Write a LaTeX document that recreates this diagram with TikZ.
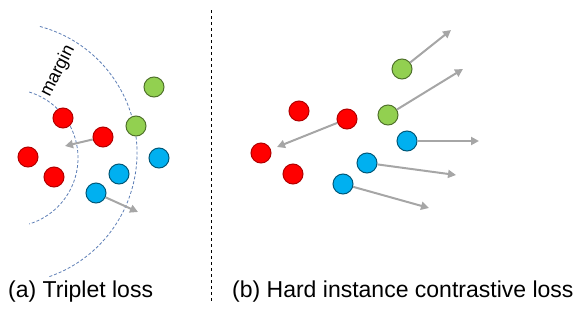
\documentclass[tikz,border=0pt]{standalone}
\usepackage{fontspec}
\setmainfont{Liberation Sans}
\usetikzlibrary{arrows.meta}

\definecolor{dotred}{HTML}{FF0000}
\definecolor{dotgreen}{HTML}{92D050}
\definecolor{dotblue}{HTML}{00B0F0}
\definecolor{arcblue}{HTML}{5B7DB5}
\definecolor{arrowgray}{HTML}{A6A6A6}

\begin{document}
\begin{tikzpicture}[x=1pt, y=-1pt,
  dot/.style={circle, inner sep=0pt, minimum size=20pt, line width=1pt},
  reddot/.style={dot, fill=dotred, draw=dotred!70!black},
  greendot/.style={dot, fill=dotgreen, draw=dotgreen!55!black},
  bluedot/.style={dot, fill=dotblue, draw=dotblue!50!black},
  push/.style={draw=arrowgray, line width=2pt, -{Triangle[length=8pt, width=8pt]}},
  marginarc/.style={draw=arcblue, line width=0.8pt, dash pattern=on 3pt off 2pt},
  caption/.style={font=\fontsize{23}{28}\selectfont, anchor=base west, inner sep=0pt}]

\useasboundingbox (0,0) rectangle (586,308);

% margin arcs
\draw[marginarc] (6,153) ++(-75:131) arc[start angle=-75, end angle=71, radius=131];
\draw[marginarc] (9,158) ++(-73:69) arc[start angle=-73, end angle=73, radius=69];
\node[rotate=63, inner sep=0pt, font=\fontsize{18}{20}\selectfont] (mtext) at (58,71) {margin};

% (a) triplet loss
\node[reddot] (r1) at (63,118) {};
\node[reddot] (r2) at (103,137) {};
\node[reddot] (r3) at (28,157) {};
\node[reddot] (r4) at (54,177) {};
\node[greendot] (g1) at (154,87) {};
\node[greendot] (g2) at (136,126) {};
\node[bluedot] (b1) at (159,158) {};
\node[bluedot] (b2) at (119,174) {};
\node[bluedot] (b3) at (96,193) {};

% (b) hard instance contrastive loss
\node[greendot] (g3) at (402,69) {};
\node[greendot] (g4) at (388,115) {};
\node[reddot] (r5) at (299,111) {};
\node[reddot] (r6) at (347,119) {};
\node[reddot] (r7) at (261,153) {};
\node[reddot] (r8) at (293,174) {};
\node[bluedot] (b4) at (407,141) {};
\node[bluedot] (b5) at (367,163) {};
\node[bluedot] (b6) at (343,184) {};

% arrow ends
\coordinate (t2) at (65,146);
\coordinate (t3) at (138,212);
\coordinate (tg3) at (451,30);
\coordinate (tg4) at (463,69);
\coordinate (tr6) at (277,147);
\coordinate (tb4) at (479,141);
\coordinate (tb5) at (456,175);
\coordinate (tb6) at (429,208);

\foreach \s/\t in {r2/t2, b3/t3, g3/tg3, g4/tg4, r6/tr6, b4/tb4, b5/tb5, b6/tb6} {
    \draw[push] (\s) -- (\t);
}

% divider
\coordinate (top) at (211,10);
\coordinate (bottom) at (211,303);
\draw[dashed, line width=0.8pt] (top) -- (bottom);

\node[caption] (capa) at (8,297) {(a) Triplet loss};
\node[caption] (capb) at (232,297) {(b) Hard instance contrastive loss};

\end{tikzpicture}
\end{document}
